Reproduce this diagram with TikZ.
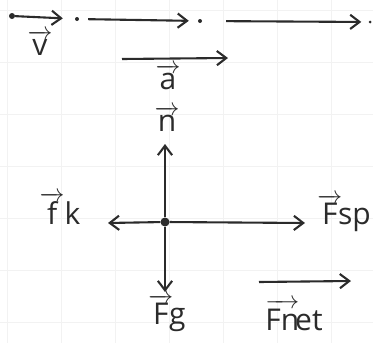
\documentclass[tikz,border=0pt]{standalone}
\usepackage{amsmath}
\usepackage{fontspec}
\setmainfont{Open Sans}
\usetikzlibrary{arrows.meta,positioning}
\definecolor{pen}{HTML}{2B2B2B}
\definecolor{paper}{HTML}{F2F2F2}
\tikzset{
  vecarrow/.style = {-{Straight Barb[length=3.3mm,width=5mm]}, line width=2.1pt, pen},
  posdot/.style   = {fill=pen, circle, inner sep=0pt, minimum size=4pt},
  lab/.style      = {pen, font=\fontsize{30}{30}\selectfont, inner sep=1pt},
}
\begin{document}
\begin{tikzpicture}[x=1pt,y=-1pt]
\useasboundingbox (0,0) rectangle (373,343);
% faint paper grid
\foreach \gx in {7,61,115,169,223,277,331}
  \draw[paper,line width=0.8pt] (\gx,0) -- (\gx,343);
\foreach \gy in {10,62,114,166,218,270,322}
  \draw[paper,line width=0.8pt] (0,\gy) -- (373,\gy);
% motion diagram
\node[posdot,minimum size=6pt] (p0) at (12,16) {};
\node[posdot,minimum size=4pt] (p1) at (77,19) {};
\node[posdot,minimum size=4pt] (p2) at (200,21) {};
\node[posdot,minimum size=3pt] (p3) at (370,22) {};
\draw[vecarrow,shorten >=12pt] (p0) -- (p1);
\draw[vecarrow,shorten <=9pt,shorten >=9pt] (p1) -- (p2);
\draw[vecarrow,shorten <=24pt,shorten >=7pt] (p2) -- (p3);
\node[lab] (vlab) at (40,43) {$\overrightarrow{\text{v}}$};
\coordinate (a0) at (122,59);
\coordinate (a1) at (228,58);
\draw[vecarrow] (a0) -- (a1);
\node[lab] (alab) at (168,77) {$\overrightarrow{\text{a}}$};
% free body diagram
\node[posdot,minimum size=9pt] (obj) at (165,222) {};
\coordinate (nend) at (165,144);
\coordinate (fkend) at (108,223);
\coordinate (fspend) at (305,223);
\coordinate (fgend) at (165,292);
\draw[vecarrow] (obj) -- (nend);
\draw[vecarrow] (obj) -- (fkend);
\draw[vecarrow] (obj) -- (fspend);
\draw[vecarrow] (obj) -- (fgend);
\node[lab] (nlab) at (167,119) {$\overrightarrow{\text{n}}$};
\node[lab] (fklab) at (60,208) {$\overrightarrow{\text{f}}\text{k}$};
\node[lab,anchor=east] (fsplab) at (372,213) {$\overrightarrow{\text{F}}\!\text{sp}$};
\node[lab] (fglab) at (167,313) {$\overrightarrow{\text{F}}\!\text{g}$};
\coordinate (net0) at (259,282);
\coordinate (net1) at (351,281);
\draw[vecarrow] (net0) -- (net1);
\node[lab] (netlab) at (294,315) {$\overrightarrow{\text{Fn}}\!\text{et}$};
\end{tikzpicture}
\end{document}
